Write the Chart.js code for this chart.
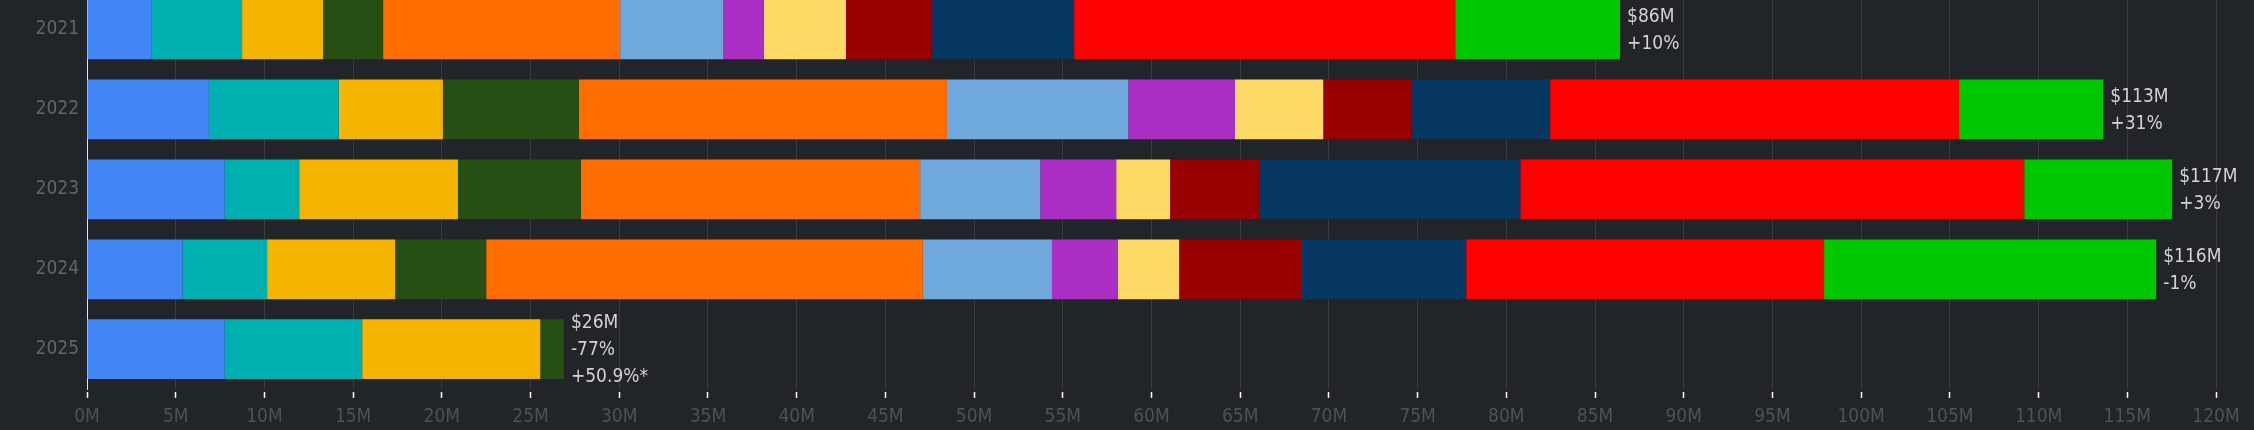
<!DOCTYPE html>
<html>
<head>
<meta charset="utf-8">
<script src="https://cdn.jsdelivr.net/npm/chart.js@4/dist/chart.umd.min.js"></script>
<style>
  html, body { margin: 0; padding: 0; background: #212429; overflow: hidden; }
  #wrap { position: relative; width: 2254px; height: 430px; overflow: hidden; }
  #revChart { position: absolute; left: 0; top: -30px; }
</style>
</head>
<body>
<div id="wrap"><canvas id="revChart" width="2254" height="466"></canvas></div>
<script>
// ── data ──
const years = ['2021', '2022', '2023', '2024', '2025'];

// stacked segments, $M, left to right
const seg01 = [3.65, 6.87, 7.76, 5.39, 7.76];
const seg02 = [5.09, 7.32, 4.20, 4.76, 7.75];
const seg03 = [4.57, 5.87, 8.95, 7.22, 10.04];
const seg04 = [3.38, 7.67, 6.93, 5.13, 1.33];
const seg05 = [13.36, 20.74, 19.12, 24.61, 0];
const seg06 = [5.81, 10.22, 6.77, 7.28, 0];
const seg07 = [2.29, 6.01, 4.28, 3.72, 0];
const seg08 = [4.63, 4.98, 3.04, 3.45, 0];
const seg09 = [4.86, 5.01, 5.01, 6.92, 0];
const seg10 = [8.00, 7.78, 14.73, 9.26, 0];
const seg11 = [21.48, 23.05, 28.40, 20.17, 0];
const seg12 = [9.29, 8.13, 8.34, 18.72, 0];

const segments = [seg01, seg02, seg03, seg04, seg05, seg06, seg07, seg08, seg09, seg10, seg11, seg12];
const segmentColors = [
  '#4285f4', '#00b0b0', '#f4b400', '#274e13', '#ff6d00', '#6fa8dc',
  '#ab2fc4', '#ffd966', '#990000', '#073763', '#ff0000', '#00c800',
];

// labels printed after each bar
const totalLabels  = ['$86M', '$113M', '$117M', '$116M', '$26M'];
const changeLabels = ['+10%', '+31%', '+3%', '-1%', '-77%'];
const extraLabels  = ['', '', '', '', '+50.9%*'];

const xMax = 120;
const xStep = 5;

const FONT = "'DejaVu Sans Condensed', 'DejaVu Sans', sans-serif";

// ── text after bar ends ──
const endLabels = {
  id: 'endLabels',
  afterDatasetsDraw(chart) {
    const { ctx, scales: { x, y } } = chart;
    ctx.save();
    ctx.font = '19px ' + FONT;
    ctx.fillStyle = '#d2d2d2';
    ctx.textAlign = 'left';
    ctx.textBaseline = 'middle';
    years.forEach((yr, i) => {
      const total = segments.reduce((s, arr) => s + arr[i], 0);
      const lines = [totalLabels[i], changeLabels[i], extraLabels[i]].filter(Boolean);
      const px = x.getPixelForValue(total) + 7;
      const cy = y.getPixelForValue(i) + 1;
      const gap = 27;
      lines.forEach((txt, k) => {
        ctx.fillText(txt, px, cy + (k - (lines.length - 1) / 2) * gap);
      });
    });
    ctx.restore();
  },
};

new Chart(document.getElementById('revChart'), {
  type: 'bar',
  data: {
    labels: years,
    datasets: segments.map((vals, i) => ({
      label: 'Segment ' + (i + 1),
      data: vals,
      backgroundColor: segmentColors[i],
      borderWidth: 0,
      barPercentage: 0.747,
      categoryPercentage: 1,
    })),
  },
  options: {
    indexAxis: 'y',
    responsive: false,
    animation: false,
    layout: { padding: { left: 0, right: 38, top: 0, bottom: 1 } },
    plugins: {
      legend: { display: false },
      tooltip: { enabled: false },
    },
    scales: {
      x: {
        stacked: true,
        min: 0,
        max: xMax,
        grid: {
          color: '#393b3f',
          lineWidth: 1,
          drawTicks: true,
          tickLength: 9,
          tickColor: '#ffffff',
          tickWidth: 1.5,
          tickBorderDash: [0, 3, 6, 40],
        },
        border: { display: false },
        ticks: {
          stepSize: xStep,
          autoSkip: false,
          maxRotation: 0,
          padding: 7,
          color: '#4e5156',
          font: { family: FONT, size: 19 },
          callback: (v) => v + 'M',
        },
      },
      y: {
        stacked: true,
        grid: { display: false, drawTicks: false },
        border: { display: true, color: '#e6e6e6', width: 1, dash: [2, 2] },
        ticks: {
          padding: 8,
          color: '#62656a',
          font: { family: FONT, size: 19 },
        },
        afterFit: (scale) => { scale.width = 87; },
      },
    },
  },
  plugins: [endLabels],
});
</script>
</body>
</html>
